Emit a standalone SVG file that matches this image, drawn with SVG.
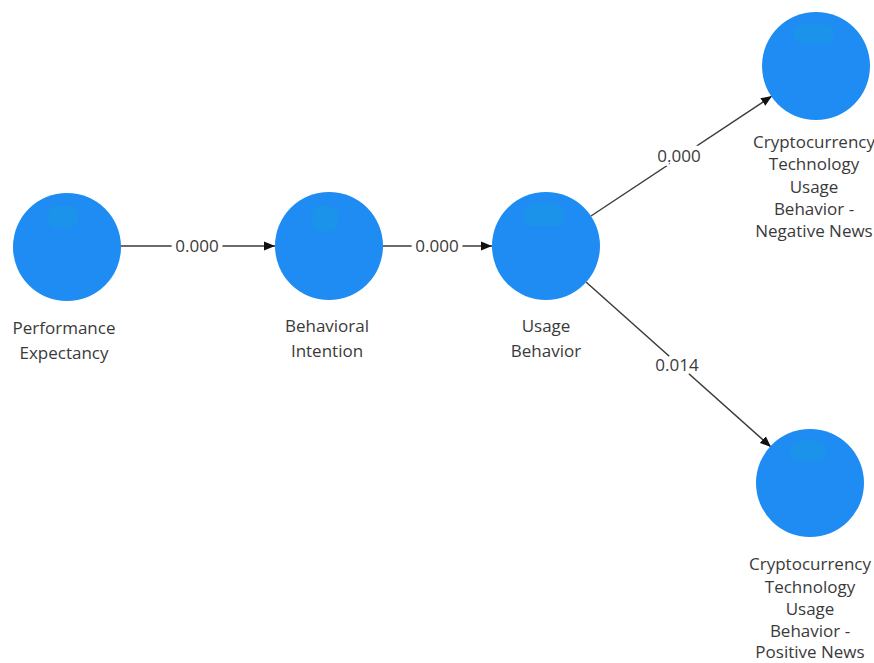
<svg xmlns="http://www.w3.org/2000/svg" width="874" height="663" viewBox="0 0 874 663">
<defs>
<marker id="arr" markerUnits="userSpaceOnUse" markerWidth="12" markerHeight="10" refX="11" refY="5" orient="auto">
<path d="M0,0.5 L11,5 L0,9.5 z" fill="#111"/>
</marker>
</defs>
<style>
.node{fill:#1e8cf2;}
.hl{fill:#1aa6d6;opacity:0.3;}
.lbl{font-family:"Open Sans","Liberation Sans",sans-serif;font-size:17px;fill:#3a3a3a;text-anchor:middle;}
.edge{stroke:#3a3a3a;stroke-width:1.4;fill:none;marker-end:url(#arr);}
.elbl{font-family:"Open Sans","Liberation Sans",sans-serif;font-size:17px;fill:#3a3a3a;text-anchor:middle;stroke:#fff;stroke-width:9;paint-order:stroke;stroke-linejoin:round;}
</style>
<rect width="874" height="663" fill="#fff"/>
<g id="connectors">
<path class="edge" d="M120,246 L275,246"/>
<path class="edge" d="M383,246 L492,246"/>
<path class="edge" d="M591,216 L772,96"/>
<path class="edge" d="M586,282 L771,447"/>
<text class="elbl" x="197" y="252">0.000</text>
<text class="elbl" x="437" y="252">0.000</text>
<text class="elbl" x="679" y="162">0.000</text>
<text class="elbl" x="677" y="371">0.014</text>
</g>
<g id="performance-expectancy">
<circle class="node" cx="67" cy="247" r="54"/>
<rect class="hl" x="48" y="206" width="30" height="22" rx="9"/>
<text class="lbl" x="64" y="334">Performance</text>
<text class="lbl" x="64" y="359">Expectancy</text>
</g>
<g id="behavioral-intention">
<circle class="node" cx="329" cy="246" r="54"/>
<rect class="hl" x="312" y="206" width="26" height="26" rx="9"/>
<text class="lbl" x="327" y="332">Behavioral</text>
<text class="lbl" x="327" y="357">Intention</text>
</g>
<g id="usage-behavior">
<circle class="node" cx="546" cy="246" r="54"/>
<rect class="hl" x="524" y="204" width="40" height="22" rx="9"/>
<text class="lbl" x="546" y="332">Usage</text>
<text class="lbl" x="546" y="357">Behavior</text>
</g>
<g id="negative-news">
<circle class="node" cx="816" cy="66" r="54"/>
<rect class="hl" x="794" y="24" width="40" height="20" rx="9"/>
<text class="lbl" x="814" y="148">Cryptocurrency</text>
<text class="lbl" x="814" y="170">Technology</text>
<text class="lbl" x="814" y="193">Usage</text>
<text class="lbl" x="814" y="215">Behavior -</text>
<text class="lbl" x="814" y="237">Negative News</text>
</g>
<g id="positive-news">
<circle class="node" cx="810" cy="483" r="54"/>
<rect class="hl" x="790" y="441" width="36" height="20" rx="9"/>
<text class="lbl" x="810" y="570">Cryptocurrency</text>
<text class="lbl" x="810" y="593">Technology</text>
<text class="lbl" x="810" y="615">Usage</text>
<text class="lbl" x="810" y="637">Behavior -</text>
<text class="lbl" x="810" y="658">Positive News</text>
</g>
</svg>
